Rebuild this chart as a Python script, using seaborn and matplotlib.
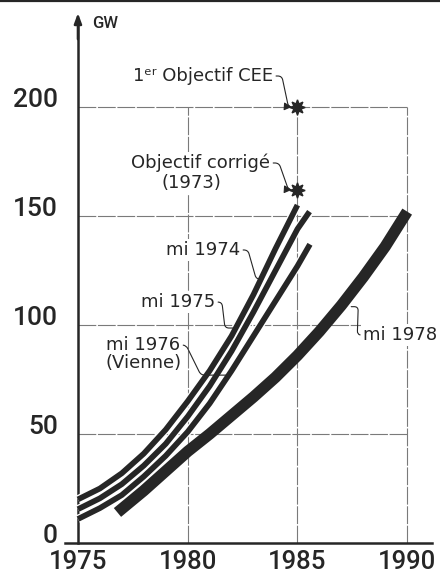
import matplotlib.pyplot as plt
import matplotlib.patheffects as pe
import pandas as pd
import seaborn as sns

# forecasts of installed nuclear capacity (GW)
years_mi1974 = [1975, 1976, 1977, 1978, 1979, 1980, 1981, 1982, 1983, 1984, 1985]
gw_mi1974 = [20, 25, 32, 41, 52, 65, 79, 95, 114, 135, 155]

years_mi1975 = [1975, 1976, 1977, 1978, 1979, 1980, 1981, 1982, 1983, 1984, 1985, 1985.55]
gw_mi1975 = [15.5, 20.5, 27, 35.5, 45.5, 58, 72, 88, 106, 125, 144, 152]

years_mi1976 = [1975, 1976, 1977, 1978, 1979, 1980, 1981, 1982, 1983, 1984, 1985, 1985.57]
gw_mi1976 = [11, 16, 22, 30.5, 40, 51, 64, 79, 95, 111, 127, 137]

years_mi1978 = [1976.8, 1978, 1979, 1980, 1981, 1982, 1983, 1984, 1985, 1986, 1987, 1988, 1989, 1990]
gw_mi1978 = [14, 24, 33, 42, 50, 58.5, 67, 76, 86, 97, 109, 122, 136, 152]

objectif_cee = (1985, 200)
objectif_corrige = (1985, 162)

grid_gw = [50, 100, 150, 200]
grid_years = [1980, 1985, 1990]
x_ticks = [1975, 1980, 1985, 1990]
y_ticks = [0, 50, 100, 150, 200]
y_minor = [v for v in range(10, 200, 10) if v % 50]

INK = "#262626"
GRID = "#7a7a7a"

sns.set_style("white")
plt.rcParams["font.family"] = ["Roboto", "DejaVu Sans"]

fig = plt.figure(figsize=(4.4, 5.78), dpi=100)
ax = fig.add_axes([65 / 440, 35 / 578, 367 / 440, 530 / 578])
x_lo, x_hi, y_top = 1974.41, 1991.13, 243.1
ax.set_xlim(x_lo, x_hi)
ax.set_ylim(0, y_top)

# frame of thin grid lines
ax.hlines(grid_gw, 1975, 1990, color=GRID, lw=0.8, ls=(0, (16, 1.5)), zorder=1)
ax.vlines(grid_years, 0, 200, color=GRID, lw=0.8, ls=(0, (16, 1.5)), zorder=1)

# thick line: mi 1978
d78 = pd.DataFrame({"annee": years_mi1978, "GW": gw_mi1978})
sns.lineplot(data=d78, x="annee", y="GW", ax=ax, color=INK, lw=8.2,
             sort=False, estimator=None, solid_capstyle="butt", zorder=3)

# three thin lines with a white rim so the gaps stay open
halo = [pe.Stroke(linewidth=6.0, foreground="white"), pe.Normal()]
for yrs, vals in [(years_mi1976, gw_mi1976), (years_mi1975, gw_mi1975), (years_mi1974, gw_mi1974)]:
    d = pd.DataFrame({"annee": yrs, "GW": vals})
    sns.lineplot(data=d, x="annee", y="GW", ax=ax, color=INK, lw=4.1,
                 sort=False, estimator=None, solid_capstyle="butt",
                 path_effects=halo, zorder=4)

# objectives
for pt in (objectif_cee, objectif_corrige):
    ax.plot(*pt, marker=(8, 1, 0), ms=11, color=INK, zorder=5, clip_on=False)

box = dict(boxstyle="square,pad=0.1", fc="white", ec="none")
txt = dict(fontsize=13, color=INK, bbox=box, zorder=6, family=["DejaVu Sans"])


def leader(a_in, a_out, head=False, rad=4):
    return dict(
        arrowstyle="-|>,head_length=0.35,head_width=0.18" if head else "-",
        connectionstyle=f"arc,angleA={a_in[0]},armA={a_in[1]},angleB={a_out[0]},armB={a_out[1]},rad={rad}",
        lw=0.8, color=INK, shrinkA=1, shrinkB=4 if head else 0,
    )


ax.annotate("1ᵉʳ Objectif CEE", xy=objectif_cee, xytext=(1983.88, 214.2),
            ha="right", va="center", arrowprops=dict(leader((0, 9), (180, 9), head=True), relpos=(1, 0.5)), **txt)
ax.annotate("Objectif corrigé", xy=objectif_corrige, xytext=(1983.75, 174.3),
            ha="right", va="center", arrowprops=dict(leader((0, 9), (180, 9), head=True), relpos=(1, 0.5)), **txt)
ax.text(1980.15, 165, "(1973)", ha="center", va="center", **txt)

ax.annotate("mi 1974", xy=(1983.35, 121), xytext=(1982.38, 134.4),
            ha="right", va="center", arrowprops=dict(leader((0, 8), (180, 5)), relpos=(1, 0.5)), **txt)
ax.annotate("mi 1975", xy=(1982.2, 98.6), xytext=(1981.24, 110.5),
            ha="right", va="center", arrowprops=dict(leader((0, 7), (180, 11)), relpos=(1, 0.5)), **txt)
ax.annotate("mi 1976", xy=(1981.83, 77), xytext=(1979.65, 90.8),
            ha="right", va="center", arrowprops=dict(leader((0, 6), (180, 27)), relpos=(1, 0.5)), **txt)
ax.text(1979.73, 82.6, "(Vienne)", ha="right", va="center", **txt)
ax.annotate("mi 1978", xy=(1987.45, 108.4), xytext=(1988.0, 95.4),
            ha="left", va="center", arrowprops=dict(leader((180, 6), (0, 7)), relpos=(0, 0.5)), **txt)

# axes drawn as in the original: y axis at 1975 with an arrow, x axis along 0
sns.despine(ax=ax, top=True, right=True)
ax.spines["left"].set_position(("data", 1975))
ax.spines["left"].set_bounds(0, y_top - 4)
for s in ("left", "bottom"):
    ax.spines[s].set_linewidth(1.8)
    ax.spines[s].set_color(INK)
ax.annotate("", xy=(1975, y_top), xytext=(1975, y_top - 12),
            arrowprops=dict(arrowstyle="-|>,head_length=0.6,head_width=0.22", lw=1.8, color=INK,
                            shrinkA=0, shrinkB=0), annotation_clip=False)
ax.text(1975.65, y_top - 5, "GW", fontsize=12, fontweight=500, color=INK, va="center", ha="left")

ax.set_xticks(x_ticks)
ax.set_yticks(y_ticks)
ax.set_yticks(y_minor, minor=True)
ax.tick_params(axis="x", direction="inout", length=8, width=1.2, color=INK,
               labelsize=18.5, labelcolor=INK, pad=1.0)
ax.tick_params(axis="y", which="major", direction="out", length=9.4, width=1.4, color=INK,
               labelsize=19, labelcolor=INK, pad=5)
ax.tick_params(axis="y", which="minor", direction="out", length=5, width=1.2, color=INK)
for lab in ax.get_yticklabels():
    lab.set_va("baseline")
    lab.set_fontweight(500)
for lab in ax.get_xticklabels():
    lab.set_fontweight(500)
ax.set_xlabel("")
ax.set_ylabel("")

fig.add_artist(plt.Line2D([0, 1], [1 - 1.2 / 578] * 2, color=INK, lw=1.6))

fig.savefig("out.png", dpi=100)
